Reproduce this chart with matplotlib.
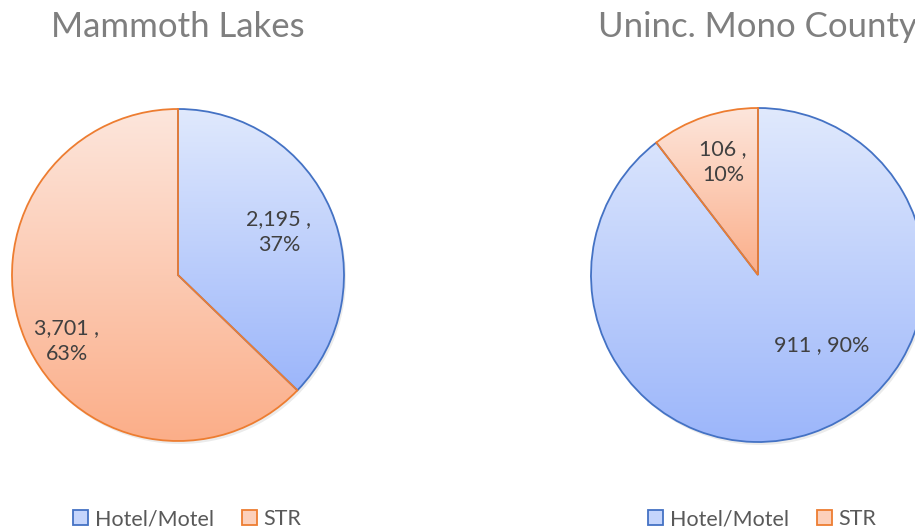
import numpy as np
import matplotlib
matplotlib.use("Agg")
import matplotlib.pyplot as plt
from matplotlib.colors import LinearSegmentedColormap
from matplotlib.patches import Patch, Circle

plt.rcParams['font.family'] = ['Lato', 'DejaVu Sans']

# data
categories = ["Hotel/Motel", "STR"]
titles = ["Mammoth Lakes", "Uninc. Mono County"]
mammoth = [2195, 3701]
mono = [911, 106]

edge_colors = ["#4472c4", "#ed7d31"]
grad_cmaps = [
    LinearSegmentedColormap.from_list("blue", ["#9cb6fa", "#e0e9fd"]),
    LinearSegmentedColormap.from_list("orange", ["#fbae89", "#fde6dc"]),
]

fig = plt.figure(figsize=(9.15, 5.31), dpi=100)
W, H = 915, 531

# pie centers / radii in pixels
layouts = [(178, 275, 166), (758, 275, 167)]
label_pos = [
    [((279, 232), "2,195 ,\n37%"), ((67, 341), "3,701 ,\n63%")],
    [((822, 345), "911 , 90%"), ((723, 162), "106 ,\n10%")],
]
title_pos = [(178, 27), (757, 27)]
legend_x = [187, 762]

for i, vals in enumerate([mammoth, mono]):
    cx, cy, r = layouts[i]
    ax = fig.add_axes([(cx - r) / W, (H - cy - r) / H, 2 * r / W, 2 * r / H])

    # faint shadow
    ax.add_patch(Circle((0.012, -0.018), 1.0, color="#000000", alpha=0.08,
                        lw=0, zorder=0, clip_on=False))

    wedges, _ = ax.pie(vals, startangle=90, counterclock=False, radius=1,
                       colors=["none", "none"], frame=True)
    ax.axis("off")

    for j, w in enumerate(wedges):
        w.set_facecolor("none")
        w.set_edgecolor(edge_colors[j])
        w.set_linewidth(1.3)
        w.set_zorder(3)
        w.set_clip_on(False)
        ext = w.get_path().get_extents(w.get_patch_transform())
        grad = np.linspace(0, 1, 256).reshape(-1, 1)
        im = ax.imshow(grad, cmap=grad_cmaps[j], origin="lower",
                       extent=[ext.x0, ext.x1, ext.y0, ext.y1],
                       aspect="auto", zorder=2, interpolation="bilinear")
        im.set_clip_path(w)

    ax.set_xlim(-1, 1)
    ax.set_ylim(-1, 1)

    for (px, py), txt in label_pos[i]:
        fig.text(px / W, 1 - py / H, txt, ha="center", va="center",
                 fontsize=15.5, color="#404040", linespacing=1.32)

    tx, ty = title_pos[i]
    fig.text(tx / W, 1 - ty / H, titles[i], ha="center", va="center",
             fontsize=25, color="#7f7f7f")

    handles = [Patch(facecolor=grad_cmaps[k](0.6), edgecolor=edge_colors[k],
                     linewidth=1.3, label=categories[k]) for k in range(2)]
    fig.legend(handles=handles, loc="center",
               bbox_to_anchor=(legend_x[i] / W, 1 - 519 / H),
               ncol=2, frameon=False, fontsize=15.5, labelcolor="#595959",
               handlelength=0.7, handleheight=0.7, handletextpad=0.3,
               columnspacing=1.3)

fig.savefig("out.png", dpi=100)
